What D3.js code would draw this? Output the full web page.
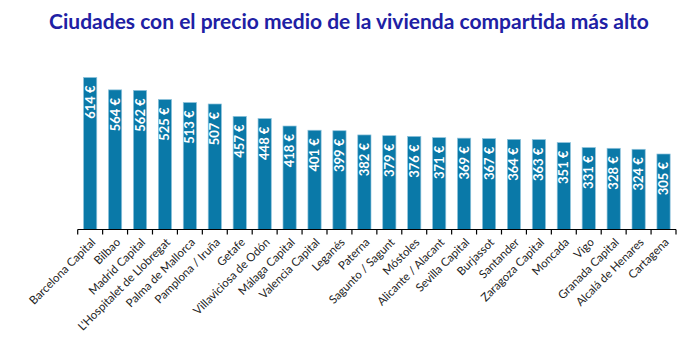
<!DOCTYPE html>
<html><head><meta charset="utf-8">
<script src="https://cdn.jsdelivr.net/npm/d3@7"></script>
<style>body{margin:0;background:#fff}svg{display:block}</style>
</head><body>
<script>
const title = "Ciudades con el precio medio de la vivienda compartida más alto";
const cities = ["Barcelona Capital","Bilbao","Madrid Capital","L'Hospitalet de Llobregat","Palma de Mallorca","Pamplona / Iruña","Getafe","Villaviciosa de Odón","Málaga Capital","Valencia Capital","Leganés","Paterna","Sagunto / Sagunt","Móstoles","Alicante / Alacant","Sevilla Capital","Burjassot","Santander","Zaragoza Capital","Moncada","Vigo","Granada Capital","Alcalá de Henares","Cartagena"];
const prices = [614,564,562,525,513,507,457,448,418,401,399,382,379,376,371,369,367,364,363,351,331,328,324,305];

const W = 700, H = 356;
const svg = d3.select("body").append("svg").attr("width", W).attr("height", H);

svg.append("text").attr("x", 349).attr("y", 29).attr("text-anchor", "middle")
  .attr("font-family", "Lato, sans-serif").attr("font-weight", "bold").attr("font-size", 21)
  .attr("fill", "#2020a4").text(title);

const x = d3.scaleBand().domain(cities).range([77.7, 676]).paddingInner(0.47).paddingOuter(0.235);
const y = d3.scaleLinear().domain([0, 614]).range([229.5, 77.5]);

const g = svg.append("g");
g.selectAll("rect").data(prices).join("rect")
  .attr("x", (d,i) => x(cities[i])).attr("width", x.bandwidth())
  .attr("y", d => y(d)).attr("height", d => y(0) - y(d))
  .attr("fill", "#0a79a8").attr("stroke", "#8fc3dc").attr("stroke-width", 0.7);

g.selectAll("text.v").data(prices).join("text").attr("class","v")
  .attr("transform", (d,i) => `translate(${x(cities[i]) + x.bandwidth()/2 + 4.5},${y(d) + 8}) rotate(-90)`)
  .attr("text-anchor", "end")
  .attr("font-family", "Lato, sans-serif").attr("font-weight", "bold").attr("font-size", 13)
  .attr("fill", "#fff").text(d => d + " €");

// axis
const ax = svg.append("g");
ax.append("line").attr("x1", 77.7).attr("x2", 676).attr("y1", 229.5).attr("y2", 229.5)
  .attr("stroke", "#000").attr("stroke-width", 1.2);
const bounds = d3.range(cities.length + 1).map(i => 77.7 + i * (676 - 77.7) / cities.length);
ax.selectAll("line.t").data(bounds).join("line").attr("class","t")
  .attr("x1", d => d).attr("x2", d => d).attr("y1", 229.5).attr("y2", 234.5)
  .attr("stroke", "#000").attr("stroke-width", 1.2);

ax.selectAll("text.c").data(cities).join("text").attr("class","c")
  .attr("transform", d => `translate(${x(d) + x.bandwidth()/2 + 6},${243}) rotate(-45)`)
  .attr("text-anchor", "end")
  .attr("font-family", "Lato, sans-serif").attr("font-size", 11.5)
  .attr("fill", "#222").text(d => d);
</script>
</body></html>
